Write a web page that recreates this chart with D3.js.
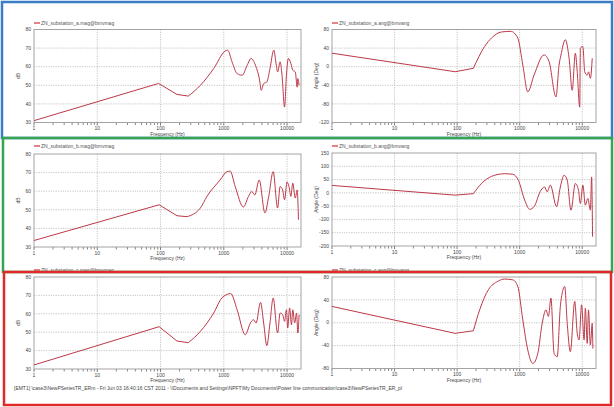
<!DOCTYPE html>
<html><head><meta charset="utf-8">
<script src="https://cdn.jsdelivr.net/npm/d3@7"></script>
<style>body{margin:0;background:#fff}svg{display:block;font-family:"Liberation Sans",Arial,sans-serif}</style>
</head><body>
<svg id="c" width="614" height="407"></svg>
<script>
// ---- tick labels ----
const xTicks = [1, 10, 100, 1000, 10000];
const magTicks = [30, 40, 50, 60, 70, 80];
const angTicksA = [-120, -80, -40, 0, 40, 80];
const angTicksB = [-200, -150, -100, -50, 0, 50, 100, 150];
const angTicksC = [-80, -40, 0, 40, 80];

// ---- series: phase a ----
const magA_freq = [1,93,182,275,427,692,1047,1148,1349,1622,1950,2344,2692,3162,3715,3890,4266,4786,5370,6166,6761,7079,7762,8318,9120,9772,10471,11482,12303,13490,14454,14791,15488];
const magA_db   = [31,51,45.1,44.2,50,59,68.4,68.9,62.6,56.3,55.4,60.8,64.4,60.8,51.8,47.3,50.9,51.8,59,68.9,60.8,57.2,62.6,55.4,38.3,55.4,64.4,61.7,58.1,57.2,49,53.6,50];
const angA_freq = [1,93,182,275,355,513,724,933,1122,1349,1698,2455,2951,3802,4266,4571,5370,6166,6918,7762,8318,9120,9333,10233,10965,12023,12589,13490,14454];
const angA_deg  = [29,-10.8,-3.5,43.5,61.7,74.7,76,61.7,3.7,-54,-18,25.4,11,-65,3.7,25,58,18,-50.7,29,-11,-87,40,43.5,-11,-18,-11,-25,18];

// ---- series: phase b ----
const magB_freq = [1,95,182,263,427,537,871,1122,1259,1514,2042,2455,2754,3090,3631,4467,5129,6026,7079,7762,8511,9120,10000,10715,11482,12303,13490,14454,15136];
const magB_db   = [33.5,52.7,46.8,46.3,51,57,66,70.5,70.8,62.5,51.5,57.2,59.8,58,66,48.3,57.2,70.5,51,62.5,60.7,55.4,65,62.5,57.2,64.3,56.3,60.7,44.7];
const angB_freq = [1,93,182,245,355,575,776,955,1202,1445,1698,2188,2512,2754,3090,3890,4467,5129,5754,6607,7762,8710,9333,10233,11220,12303,13490,14125,14622];
const angB_deg  = [28,-8.6,-3,35,62,72,70,47,-27,-62,-52,10,22,4,29,-52,22,66,48,-65,35,10,-40,29,-46,-21,-65,60,-165];

// ---- series: phase c ----
const magC_freq = [1,95,182,275,427,692,933,1288,1622,2188,2630,2951,3236,3802,4266,4786,5370,6026,7079,7762,8511,9120,9772,10233,10965,11749,12303,13183,14125,14791,15488];
const magC_db   = [32.2,53,45.2,44.3,50.5,60.4,68.6,71,62.2,48.6,55,56.8,55,66.2,55,42.7,55,68.6,49.6,60.4,59.5,55.9,62.2,52.3,63.2,54,62.2,55,60.4,49.6,59.5];
const angC_freq = [1,93,182,229,316,447,575,776,933,1122,1349,1622,1950,2291,2630,2884,3162,3548,3981,4467,4786,5248,5754,6457,7586,8318,8913,9772,10715,11220,12023,12589,13490,14454,14791];
const angC_deg  = [28.5,-18.5,-14,22.5,57.7,72.4,76.4,75,63.6,5,-47.8,-71.2,-53.6,-1,22.5,11,43,-53.6,-59.4,28.5,51.8,63.6,-1,-50.6,37.3,-18.5,-30,31.3,-30,25.5,-36,22.5,-39,-1,-45];

const legendNames = ["ZN_substation_a.mag@bmvmag","ZN_substation_a.ang@bmvang",
                     "ZN_substation_b.mag@bmvmag","ZN_substation_b.ang@bmvang",
                     "ZN_substation_c.mag@bmvmag","ZN_substation_c.ang@bmvang"];
const xLabel = "Frequency (Hz)";
const yLabels = ["dB", "Angle (Deg)"];
const footer = "[EMT1] \\case3\\NewPSeriesTR_ERm - Fri Jun 03 16:40:16 CST 2011 - \\\\Documents and Settings\\NPFT\\My Documents\\Power line communication\\case3\\NewPSeriesTR_ER_pl";

const fMax = 16600;
const svg = d3.select("#c");
const lineColor = "#bd3848";

// lin: number of leading points joined by straight segments (rest is smoothed)
const panels = [
  {f: magA_freq, v: magA_db,  ticks: magTicks,  dom: [30,80],    box: [34,301,29.5,122.5], name: legendNames[0], yl: yLabels[0], legY: 23, lin: 3},
  {f: angA_freq, v: angA_deg, ticks: angTicksA, dom: [-120,80],  box: [332,596,29.5,122.5], name: legendNames[1], yl: yLabels[1], legY: 23, lin: 2},
  {f: magB_freq, v: magB_db,  ticks: magTicks,  dom: [30,80],    box: [34,301,154,247], name: legendNames[2], yl: yLabels[0], legY: 146, lin: 3},
  {f: angB_freq, v: angB_deg, ticks: angTicksB, dom: [-200,150], box: [332,596,153,246], name: legendNames[3], yl: yLabels[1], legY: 146, lin: 2},
  {f: magC_freq, v: magC_db,  ticks: magTicks,  dom: [30,80],    box: [34,301,277,369], name: legendNames[4], yl: yLabels[0], legY: 270, lin: 3},
  {f: angC_freq, v: angC_deg, ticks: angTicksC, dom: [-80,80],   box: [332,596,277,368.5], name: legendNames[5], yl: yLabels[1], legY: 270, lin: 2}
];

panels.forEach(p => {
  const [x0, x1, y0, y1] = p.box;
  const x = d3.scaleLog().domain([1, fMax]).range([x0, x1]);
  const y = d3.scaleLinear().domain(p.dom).range([y1, y0]);
  const g = svg.append("g");

  // grid
  g.selectAll(".gx").data(xTicks.slice(1)).join("line")
    .attr("x1", d => x(d)).attr("x2", d => x(d)).attr("y1", y0).attr("y2", y1)
    .attr("stroke", "#b8b8b8").attr("stroke-width", 0.8).attr("stroke-dasharray", "1.2,1.2");
  g.selectAll(".gy").data(p.ticks.slice(1, -1)).join("line")
    .attr("x1", x0).attr("x2", x1).attr("y1", d => y(d)).attr("y2", d => y(d))
    .attr("stroke", "#b8b8b8").attr("stroke-width", 0.8).attr("stroke-dasharray", "1.2,1.2");

  // minor ticks on x
  const minors = [];
  for (let dec = 1; dec <= 10000; dec *= 10)
    for (let k = 2; k <= 9; k++) if (dec * k <= fMax) minors.push(dec * k);
  g.selectAll(".mt").data(minors).join("line")
    .attr("x1", d => x(d)).attr("x2", d => x(d)).attr("y1", y1).attr("y2", y1 + 2.5)
    .attr("stroke", "#555").attr("stroke-width", 0.7);
  g.selectAll(".Mt").data(xTicks).join("line")
    .attr("x1", d => x(d)).attr("x2", d => x(d)).attr("y1", y1).attr("y2", y1 + 3)
    .attr("stroke", "#555").attr("stroke-width", 0.8);

  // frame
  g.append("rect").attr("x", x0).attr("y", y0).attr("width", x1 - x0).attr("height", y1 - y0)
    .attr("fill", "none").attr("stroke", "#9a9a9a").attr("stroke-width", 0.9);

  // tick labels
  g.selectAll(".xl").data(xTicks).join("text")
    .attr("x", d => x(d)).attr("y", y1 + 7.5).attr("text-anchor", "middle")
    .attr("font-size", 5).attr("fill", "#444").text(d => d);
  g.selectAll(".yl").data(p.ticks).join("text")
    .attr("x", x0 - 3).attr("y", d => y(d) + 1.7).attr("text-anchor", "end")
    .attr("font-size", 5).attr("fill", "#444").text(d => d);

  // axis labels
  g.append("text").attr("x", (x0 + x1) / 2).attr("y", y1 + 13).attr("text-anchor", "middle")
    .attr("font-size", 5).attr("fill", "#444").text(xLabel);
  g.append("text").attr("transform", `translate(${x0 - 14},${(y0 + y1) / 2}) rotate(-90)`)
    .attr("text-anchor", "middle").attr("font-size", 5).attr("fill", "#444").text(p.yl);

  // legend
  g.append("line").attr("x1", x0).attr("x2", x0 + 6).attr("y1", p.legY).attr("y2", p.legY)
    .attr("stroke", "#d03040").attr("stroke-width", 1.2);
  g.append("text").attr("x", x0 + 7).attr("y", p.legY + 1.7).attr("font-size", 5)
    .attr("fill", "#555").text(p.name);

  // curve: straight low-frequency segments, smoothed resonance region
  const pts = p.f.map((f, i) => [f, p.v[i]]);
  const straight = d3.line().x(d => x(d[0])).y(d => y(d[1])).curve(d3.curveLinear);
  const smooth = d3.line().x(d => x(d[0])).y(d => y(d[1])).curve(d3.curveMonotoneX);
  g.append("path").attr("d", straight(pts.slice(0, p.lin + 1))).attr("fill", "none")
    .attr("stroke", lineColor).attr("stroke-width", 1.0).attr("stroke-linejoin", "round");
  g.append("path").attr("d", smooth(pts.slice(p.lin))).attr("fill", "none")
    .attr("stroke", lineColor).attr("stroke-width", 1.0).attr("stroke-linejoin", "round");
});

// footer
svg.append("text").attr("x", 14).attr("y", 389.5).attr("font-size", 5).attr("fill", "#444")
  .attr("textLength", 388).attr("lengthAdjust", "spacingAndGlyphs").text(footer);

// colored section boxes
svg.append("rect").attr("x", 2).attr("y", 2).attr("width", 610).attr("height", 136)
  .attr("fill", "none").attr("stroke", "#3a7cc6").attr("stroke-width", 2.5);
svg.append("rect").attr("x", 3).attr("y", 138).attr("width", 609).attr("height", 134)
  .attr("fill", "none").attr("stroke", "#35a552").attr("stroke-width", 2.5);
svg.append("rect").attr("x", 4).attr("y", 272).attr("width", 607).attr("height", 133)
  .attr("fill", "none").attr("stroke", "#e02a2a").attr("stroke-width", 2.5);
</script>
</body></html>
